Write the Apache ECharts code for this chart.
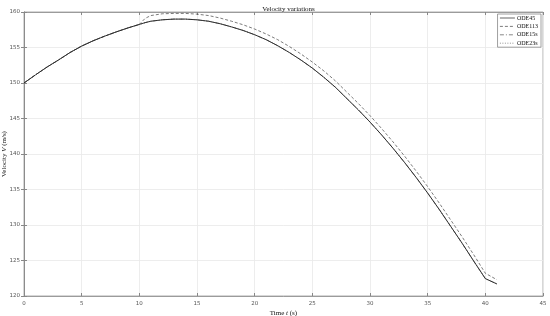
<!DOCTYPE html>
<html>
<head>
<meta charset="utf-8">
<script src="https://cdn.jsdelivr.net/npm/echarts@6/dist/echarts.min.js"></script>
<style>html,body{margin:0;padding:0;background:#fff}#c{width:550px;height:316px}</style>
</head>
<body>
<div id="c"></div>
<script>
const timeS = [0,1,2,3,4,5,6,7,8,9,10,10.5,11,12,13,14,15,16,17,18,19,20,21,22,23,24,25,26,27,28,29,30,31,32,33,34,35,36,37,38,39,40,41];
const ode45 = [150,151.15,152.25,153.25,154.3,155.2,155.95,156.6,157.2,157.75,158.25,158.5,158.7,158.9,159.0,159.0,158.9,158.7,158.35,157.9,157.4,156.8,156.1,155.25,154.3,153.25,152.1,150.8,149.4,147.8,146.2,144.5,142.7,140.8,138.8,136.7,134.5,132.2,129.8,127.4,124.9,122.45,121.7];
const ode113 = [150,151.15,152.25,153.25,154.3,155.2,155.95,156.6,157.2,157.75,158.25,159.1,159.5,159.75,159.8,159.8,159.7,159.5,159.15,158.7,158.2,157.6,156.9,156.1,155.15,154.1,152.95,151.7,150.3,148.7,147.1,145.4,143.6,141.7,139.7,137.6,135.4,133.1,130.7,128.3,125.8,123.2,122.3];
const ode15s = ode45.slice();
const ode23s = ode45.slice();
const seriesNames = ['ODE45','ODE113','ODE15s','ODE23s'];
const xTicks = [0,5,10,15,20,25,30,35,40,45];
const yTicks = [120,125,130,135,140,145,150,155,160];

const pair = (ys) => timeS.map((t,i)=>[t,ys[i]]);
const serif = 'Liberation Serif';
const chart = echarts.init(document.getElementById('c'), null, {renderer:'canvas'});
const styles = [
  {color:'#222', type:'solid', width:0.9},
  {color:'#444', type:[3,2], width:0.7},
  {color:'#555', type:[4,2,1,2], width:0.6},
  {color:'#666', type:[1,1.5], width:0.6}
];
const datas = [ode45, ode113, ode15s, ode23s];
const rich = {n:{fontFamily:serif, fontSize:7, color:'#111'}, i:{fontFamily:serif, fontStyle:'italic', fontSize:7, color:'#111'}};
chart.setOption({
  animation:false,
  backgroundColor:'#fff',
  title:{text:'Velocity variations', left:283.5, textAlign:'center', top:1,
    textStyle:{fontFamily:serif, fontSize:7, fontWeight:'normal', color:'#111'}},
  legend:{
    data:seriesNames, orient:'vertical', right:9, top:14,
    itemWidth:15, itemHeight:6, itemGap:2.4, padding:[1,3,1,2],
    borderColor:'#888', borderWidth:0.8, backgroundColor:'#fff',
    itemStyle:{opacity:0}, lineStyle:{width:0.7},
    textStyle:{fontFamily:serif, fontSize:6, color:'#111', padding:[0,0,0,-3]}
  },
  grid:{left:24, right:7, top:12, bottom:20, containLabel:false, outerBoundsMode:'none',
    show:true, borderColor:'#999', borderWidth:0.8},
  xAxis:[{
    type:'value', min:0, max:45, interval:5,
    axisLine:{show:true, onZero:false, lineStyle:{color:'#888', width:0.8}},
    axisTick:{show:true, inside:true, length:3, lineStyle:{color:'#888'}},
    axisLabel:{fontSize:5.5, color:'#555', margin:5, fontFamily:'DejaVu Sans'},
    splitLine:{show:true, lineStyle:{color:'#e8e8e8', width:0.8}},
    name:'{n|Time }{i|t}{n| (s)}', nameLocation:'middle', nameGap:14, nameMoveOverlap:false,
    nameTextStyle:{rich:rich}
  },{
    type:'value', position:'top', min:0, max:45, interval:5,
    axisLine:{show:true, lineStyle:{color:'#888', width:0.8}},
    axisTick:{show:true, inside:true, length:3, lineStyle:{color:'#888'}},
    axisLabel:{show:false}, splitLine:{show:false}
  }],
  yAxis:[{
    type:'value', min:120, max:160, interval:5,
    axisLine:{show:true, onZero:false, lineStyle:{color:'#888', width:0.8}},
    axisTick:{show:true, inside:true, length:3, lineStyle:{color:'#888'}},
    axisLabel:{fontSize:5.5, color:'#555', margin:4, fontFamily:'DejaVu Sans'},
    splitLine:{show:true, lineStyle:{color:'#e8e8e8', width:0.8}},
    name:'{n|Velocity }{i|V}{n| (m/s)}', nameLocation:'middle', nameGap:16, nameRotate:90, nameMoveOverlap:false,
    nameTextStyle:{rich:rich}
  },{
    type:'value', position:'right', min:120, max:160, interval:5,
    axisLine:{show:true, lineStyle:{color:'#888', width:0.8}},
    axisTick:{show:true, inside:true, length:3, lineStyle:{color:'#888'}},
    axisLabel:{show:false}, splitLine:{show:false}
  }],
  series: seriesNames.map((n,k)=>({
    name:n, type:'line', data:pair(datas[k]), symbol:'none', smooth:false,
    xAxisIndex:0, yAxisIndex:0,
    lineStyle:{color:styles[k].color, type:styles[k].type, width:styles[k].width},
    itemStyle:{color:styles[k].color}, z: 10-k
  }))
});
</script>
</body>
</html>
